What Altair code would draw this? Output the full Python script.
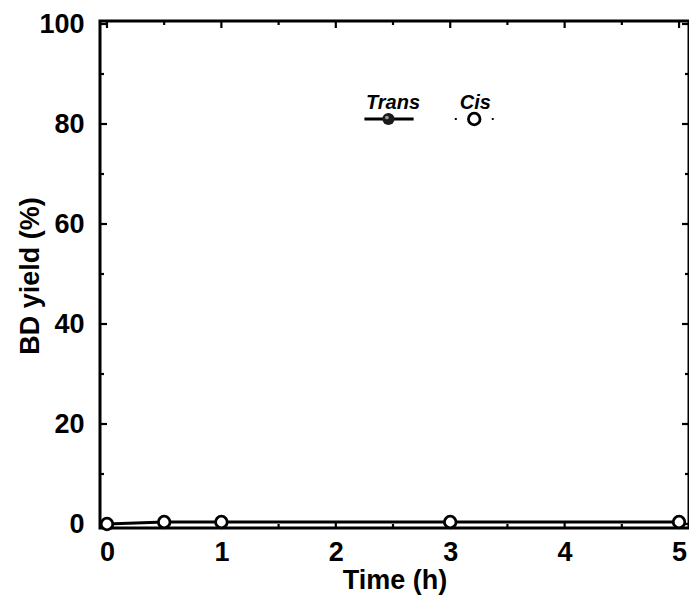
import altair as alt
import pandas as pd

# ---- data ----
times = [0, 0.5, 1, 3, 5]
trans_yield = [0.0, 0.4, 0.4, 0.4, 0.4]
cis_yield = [0.0, 0.4, 0.4, 0.4, 0.4]

x_ticks_major = [0, 1, 2, 3, 4, 5]
x_ticks_minor = [0.5, 1.5, 2.5, 3.5, 4.5]
y_ticks_major = [0, 20, 40, 60, 80, 100]
y_ticks_minor = [10, 30, 50, 70, 90]

# legend (in data units)
legend_names = ["Trans", "Cis"]
legend_text_x = [2.5, 3.22]
legend_text_y = [84.3, 84.3]
legend_sym_x = [2.46, 3.21]
legend_line_x1 = [2.25, 3.04]
legend_line_x2 = [2.68, 3.38]
legend_sym_y = [81.0, 81.0]

W, H = 589, 507
FONT = "Liberation Sans"

xs = alt.Scale(domain=[-0.061, 5.087], nice=False, zero=False)
ys = alt.Scale(domain=[-0.8, 100.6], nice=False, zero=False)

df = pd.DataFrame({"t": times, "trans": trans_yield, "cis": cis_yield})

xaxis = alt.Axis(values=x_ticks_major, format="d", ticks=False, domain=False, grid=False,
                 labelFont=FONT, labelFontSize=27, labelFontWeight="bold",
                 labelColor="black", labelPadding=11, title="Time (h)",
                 titleFont=FONT, titleFontSize=27, titleFontWeight="bold",
                 titleColor="black", titleY=52, titleBaseline="middle")
yaxis = alt.Axis(values=y_ticks_major, format="d", ticks=False, domain=False, grid=False,
                 labelFont=FONT, labelFontSize=27, labelFontWeight="bold",
                 labelColor="black", labelPadding=16, title="BD yield (%)",
                 titleFont=FONT, titleFontSize=27, titleFontWeight="bold",
                 titleColor="black", titleX=-70, titleY=H / 2 + 1,
                 titleBaseline="middle", titleAngle=270)

base = alt.Chart(df)

trans_line = base.mark_line(color="black", strokeWidth=3).encode(
    x=alt.X("t:Q", scale=xs, axis=xaxis),
    y=alt.Y("trans:Q", scale=ys, axis=yaxis),
)
trans_pts = base.mark_point(shape="circle", filled=True, color="#1a1a1a",
                            size=130, opacity=1).encode(
    x=alt.X("t:Q", scale=xs), y=alt.Y("trans:Q", scale=ys))
cis_line = base.mark_line(color="black", strokeWidth=1.5, strokeDash=[2, 8]).encode(
    x=alt.X("t:Q", scale=xs), y=alt.Y("cis:Q", scale=ys))
cis_pts = base.mark_point(shape="circle", filled=True, fill="white",
                          stroke="black", strokeWidth=2.8, size=135,
                          opacity=1).encode(
    x=alt.X("t:Q", scale=xs), y=alt.Y("cis:Q", scale=ys))

# inward tick marks
def xticks(vals, length):
    d = pd.DataFrame({"v": vals})
    b = alt.Chart(d).mark_rule(color="black", strokeWidth=2.2)
    bottom = b.encode(x=alt.X("v:Q", scale=xs), y=alt.value(H), y2=alt.value(H - length))
    top = b.encode(x=alt.X("v:Q", scale=xs), y=alt.value(0), y2=alt.value(length))
    return bottom + top

def yticks(vals, length):
    d = pd.DataFrame({"v": vals})
    b = alt.Chart(d).mark_rule(color="black", strokeWidth=2.2)
    left = b.encode(y=alt.Y("v:Q", scale=ys), x=alt.value(0), x2=alt.value(length))
    right = b.encode(y=alt.Y("v:Q", scale=ys), x=alt.value(W), x2=alt.value(W - length))
    return left + right

ticks = xticks(x_ticks_major, 7) + xticks(x_ticks_minor, 4) + \
        yticks(y_ticks_major, 7) + yticks(y_ticks_minor, 4)

# legend
leg = pd.DataFrame({"name": legend_names, "tx": legend_text_x, "ty": legend_text_y,
                    "sx": legend_sym_x, "x1": legend_line_x1, "x2": legend_line_x2,
                    "sy": legend_sym_y})
lb = alt.Chart(leg)
leg_text = lb.mark_text(font=FONT, fontSize=20, fontWeight="bold", fontStyle="italic",
                        color="black", baseline="middle").encode(
    x=alt.X("tx:Q", scale=xs), y=alt.Y("ty:Q", scale=ys), text="name:N")
leg_trans_line = lb.transform_filter(alt.datum.name == "Trans").mark_rule(
    color="black", strokeWidth=3).encode(
    x=alt.X("x1:Q", scale=xs), x2="x2:Q", y=alt.Y("sy:Q", scale=ys))
leg_cis_line = lb.transform_filter(alt.datum.name == "Cis").mark_rule(
    color="black", strokeWidth=2, strokeDash=[2, 16.5]).encode(
    x=alt.X("x1:Q", scale=xs), x2="x2:Q", y=alt.Y("sy:Q", scale=ys))
leg_trans_pt = lb.transform_filter(alt.datum.name == "Trans").mark_point(
    shape="circle", filled=True, color="#1a1a1a", size=150, opacity=1).encode(
    x=alt.X("sx:Q", scale=xs), y=alt.Y("sy:Q", scale=ys))
leg_trans_hl = lb.transform_filter(alt.datum.name == "Trans").mark_point(
    shape="circle", filled=True, color="#9a9a9a", size=14, opacity=1,
    xOffset=-1.5, yOffset=-1.5).encode(
    x=alt.X("sx:Q", scale=xs), y=alt.Y("sy:Q", scale=ys))
leg_cis_pt = lb.transform_filter(alt.datum.name == "Cis").mark_point(
    shape="circle", filled=True, fill="white", stroke="black", strokeWidth=2.8,
    size=135, opacity=1).encode(
    x=alt.X("sx:Q", scale=xs), y=alt.Y("sy:Q", scale=ys))

chart = alt.layer(
    ticks, trans_line, cis_line, trans_pts, cis_pts,
    leg_trans_line, leg_cis_line, leg_trans_pt, leg_trans_hl, leg_cis_pt, leg_text,
).properties(
    width=W, height=H,
    autosize=alt.AutoSizeParams(type="none"),
    padding={"left": 92, "top": 13, "right": 0, "bottom": 69},
    background="white",
).configure_view(stroke="black", strokeWidth=3)

chart.save("out.html", embed_options={"renderer": "svg", "actions": False})
